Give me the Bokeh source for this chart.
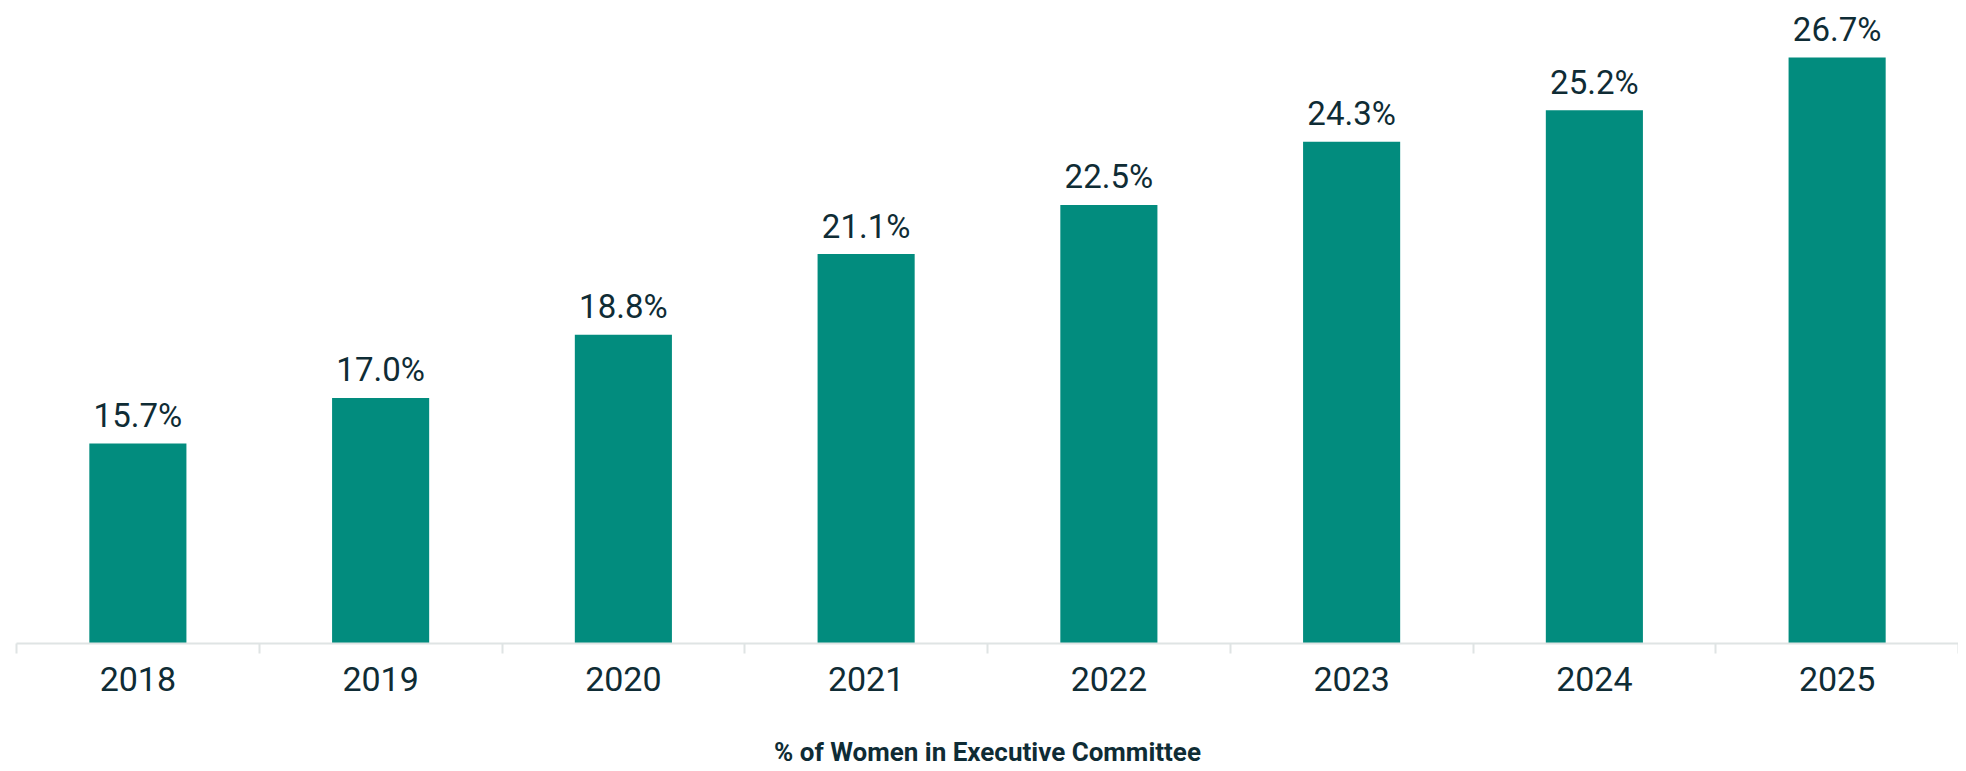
from bokeh.plotting import figure
from bokeh.models import Range1d, FixedTicker
from bokeh.embed import file_html
from bokeh.resources import INLINE
from bokeh.core.properties import value

years = ["2018", "2019", "2020", "2021", "2022", "2023", "2024", "2025"]
shares = [15.7, 17.0, 18.8, 21.1, 22.5, 24.3, 25.2, 26.7]
share_labels = ["15.7%", "17.0%", "18.8%", "21.1%", "22.5%", "24.3%", "25.2%", "26.7%"]
axis_title = "% of Women in Executive Committee"

BAR = "#028c7e"
TXT = "#0f2c35"
FONT = "Roboto"

xs = [i + 0.5 for i in range(len(years))]

p = figure(width=1958, height=771, output_backend="svg", toolbar_location=None,
           x_range=Range1d(0, len(years)), y_range=Range1d(10, 28.1),
           y_axis_location=None, min_border_left=16, min_border_right=0,
           min_border_top=8, min_border_bottom=128)
p.outline_line_color = None
p.xgrid.visible = False
p.ygrid.visible = False

p.vbar(x=xs, top=shares, bottom=10, width=0.4, fill_color=BAR, line_color=None)
p.text(x=xs, y=shares, text=share_labels, y_offset=-28, text_align="center",
       text_baseline="alphabetic", text_font=value(FONT), text_font_size="33px",
       text_color=TXT)

ax = p.xaxis[0]
ax.ticker = FixedTicker(ticks=xs, minor_ticks=list(range(len(years) + 1)))
ax.major_label_overrides = {x: y for x, y in zip(xs, years)}
ax.major_tick_out = 0
ax.major_tick_in = 0
ax.minor_tick_out = 10
ax.minor_tick_in = 0
ax.minor_tick_line_color = "#dfe4e4"
ax.minor_tick_line_width = 2
ax.axis_line_color = "#dfe4e4"
ax.axis_line_width = 2
ax.major_label_text_font = FONT
ax.major_label_text_font_size = "34px"
ax.major_label_text_color = TXT
ax.major_label_standoff = 13
ax.axis_label = axis_title
ax.axis_label_text_font = FONT
ax.axis_label_text_font_size = "26px"
ax.axis_label_text_font_style = "bold"
ax.axis_label_text_color = TXT
ax.axis_label_standoff = 43

open("out.html", "w").write(file_html(p, INLINE))
